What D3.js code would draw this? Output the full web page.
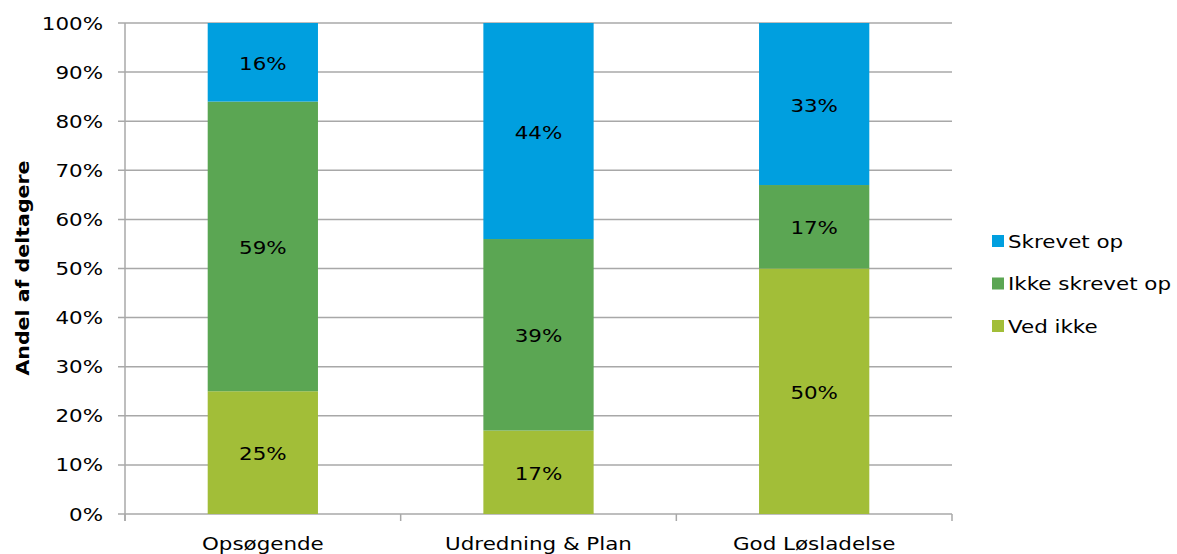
<!DOCTYPE html>
<html>
<head>
<meta charset="utf-8">
<script src="https://cdn.jsdelivr.net/npm/d3@7"></script>
<style>
  body { margin: 0; background: #fff; }
  text { font-family: "DejaVu Sans", Verdana, sans-serif; fill: #000; }
</style>
</head>
<body>
<div id="main"></div>
<script>
const categories = ['Opsøgende', 'Udredning & Plan', 'God Løsladelse'];
const seriesNames = ['Ved ikke', 'Ikke skrevet op', 'Skrevet op'];
const vedIkke = [25, 17, 50];
const ikkeSkrevetOp = [59, 39, 17];
const skrevetOp = [16, 44, 33];
const yTicks = [0, 10, 20, 30, 40, 50, 60, 70, 80, 90, 100];
const colors = ['#a2be38', '#5ba653', '#009fdf'];

const width = 1177;
const height = 554;
const stretch = 1.19; // glyphs in the original are a bit wide

const plotLeft = 125, plotRight = 952, plotTop = 23, plotBottom = 514;

const svg = d3.select('#main')
  .append('svg')
  .attr('width', width)
  .attr('height', height);

const x = d3.scaleBand().domain(categories).range([plotLeft, plotRight]).paddingInner(0.6).paddingOuter(0.3);
const xOuter = d3.scaleBand().domain(categories).range([plotLeft, plotRight]);
const y = d3.scaleLinear().domain([0, 100]).range([plotBottom, plotTop]);

// gridlines
svg.append('g')
  .selectAll('line')
  .data(yTicks)
  .enter()
  .append('line')
  .attr('x1', plotLeft - 7)
  .attr('x2', plotRight)
  .attr('y1', d => y(d))
  .attr('y2', d => y(d))
  .attr('stroke', '#a8a8a8')
  .attr('stroke-width', 1.5);

// y axis line
svg.append('line')
  .attr('x1', plotLeft).attr('x2', plotLeft)
  .attr('y1', plotTop).attr('y2', plotBottom + 7)
  .attr('stroke', '#a8a8a8').attr('stroke-width', 1.5);

// category ticks
const catTicks = categories.map(c => xOuter(c)).concat([plotRight]);
svg.append('g')
  .selectAll('line')
  .data(catTicks)
  .enter()
  .append('line')
  .attr('x1', d => d).attr('x2', d => d)
  .attr('y1', plotBottom).attr('y2', plotBottom + 7)
  .attr('stroke', '#a8a8a8').attr('stroke-width', 1.5);

// y tick labels
svg.append('g')
  .selectAll('text')
  .data(yTicks)
  .enter()
  .append('text')
  .attr('transform', d => `translate(${plotLeft - 22},${y(d) + 6.5}) scale(${stretch},1)`)
  .attr('text-anchor', 'end')
  .style('font-size', '18px')
  .text(d => d + '%');

// stacked data
const rows = categories.map((c, i) => ({
  cat: c,
  'Ved ikke': vedIkke[i],
  'Ikke skrevet op': ikkeSkrevetOp[i],
  'Skrevet op': skrevetOp[i]
}));
const stacked = d3.stack().keys(seriesNames)(rows);

const layers = svg.append('g')
  .selectAll('g')
  .data(stacked)
  .enter()
  .append('g')
  .attr('fill', (d, i) => colors[i]);

layers.selectAll('rect')
  .data(d => d)
  .enter()
  .append('rect')
  .attr('x', d => x(d.data.cat))
  .attr('width', x.bandwidth())
  .attr('y', d => y(d[1]))
  .attr('height', d => y(d[0]) - y(d[1]));

layers.selectAll('text')
  .data(d => d)
  .enter()
  .append('text')
  .attr('transform', d => `translate(${x(d.data.cat) + x.bandwidth() / 2},${(y(d[0]) + y(d[1])) / 2 + 7.5}) scale(${stretch},1)`)
  .attr('text-anchor', 'middle')
  .style('font-size', '18px')
  .text(d => Math.round(d[1] - d[0]) + '%');

// category labels
svg.append('g')
  .selectAll('text')
  .data(categories)
  .enter()
  .append('text')
  .attr('transform', d => `translate(${xOuter(d) + xOuter.bandwidth() / 2},550) scale(${stretch},1)`)
  .attr('text-anchor', 'middle')
  .style('font-size', '18px')
  .text(d => d);

// axis title
svg.append('text')
  .attr('transform', `translate(29,268) rotate(-90) scale(1.14,1)`)
  .attr('text-anchor', 'middle')
  .style('font-size', '18px')
  .style('font-weight', 'bold')
  .text('Andel af deltagere');

// legend (top to bottom: reversed series)
const legendItems = seriesNames.slice().reverse();
const legend = svg.append('g').attr('id', 'legend');
const ly = d3.scalePoint().domain(legendItems).range([241, 326]);

legend.selectAll('rect')
  .data(legendItems)
  .enter()
  .append('rect')
  .attr('x', 992)
  .attr('y', d => ly(d) - 6)
  .attr('width', 12)
  .attr('height', 12)
  .attr('fill', d => colors[seriesNames.indexOf(d)]);

legend.selectAll('text')
  .data(legendItems)
  .enter()
  .append('text')
  .attr('transform', d => `translate(1008,${ly(d) + 6.5}) scale(${stretch},1)`)
  .style('font-size', '18px')
  .text(d => d);
</script>
</body>
</html>
